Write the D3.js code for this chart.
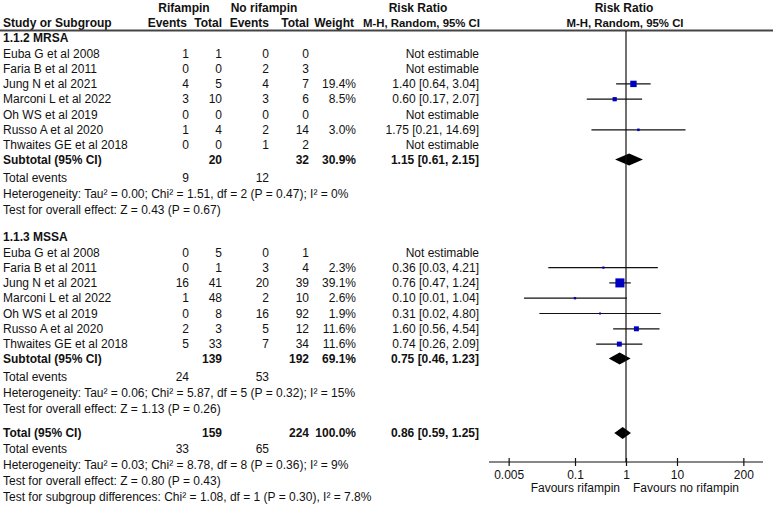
<!DOCTYPE html>
<html><head><meta charset="utf-8">
<script src="https://cdn.jsdelivr.net/npm/d3@7/dist/d3.min.js"></script>
<style>
body{margin:0;background:#fff;}
svg text{font-family:"Liberation Sans",Arial,sans-serif;font-size:12px;fill:#111;}
</style></head><body>
<svg id="c" width="777" height="505"></svg>
<script>
// ---- data ----
const studyNames = ["Euba G et al 2008","Faria B et al 2011","Jung N et al 2021","Marconi L et al 2022","Oh WS et al 2019","Russo A et al 2020","Thwaites GE et al 2018"];
// MRSA subgroup
const mrsaE1 = [1,0,4,3,0,1,0];
const mrsaN1 = [1,0,5,10,0,4,0];
const mrsaE2 = [0,2,4,3,0,2,1];
const mrsaN2 = [0,3,7,6,0,14,2];
const mrsaW  = [null,null,19.4,8.5,null,3.0,null];
const mrsaRR = [null,null,1.40,0.60,null,1.75,null];
const mrsaLo = [null,null,0.64,0.17,null,0.21,null];
const mrsaHi = [null,null,3.04,2.07,null,14.69,null];
const mrsaSub = {n1:20,n2:32,w:30.9,rr:1.15,lo:0.61,hi:2.15,e1:9,e2:12};
const mrsaHet = "Heterogeneity: Tau\u00b2 = 0.00; Chi\u00b2 = 1.51, df = 2 (P = 0.47); I\u00b2 = 0%";
const mrsaZ = "Test for overall effect: Z = 0.43 (P = 0.67)";
// MSSA subgroup
const mssaE1 = [0,0,16,1,0,2,5];
const mssaN1 = [5,1,41,48,8,3,33];
const mssaE2 = [0,3,20,2,16,5,7];
const mssaN2 = [1,4,39,10,92,12,34];
const mssaW  = [null,2.3,39.1,2.6,1.9,11.6,11.6];
const mssaRR = [null,0.36,0.76,0.10,0.31,1.60,0.74];
const mssaLo = [null,0.03,0.47,0.01,0.02,0.56,0.26];
const mssaHi = [null,4.21,1.24,1.04,4.80,4.54,2.09];
const mssaSub = {n1:139,n2:192,w:69.1,rr:0.75,lo:0.46,hi:1.23,e1:24,e2:53};
const mssaHet = "Heterogeneity: Tau\u00b2 = 0.06; Chi\u00b2 = 5.87, df = 5 (P = 0.32); I\u00b2 = 15%";
const mssaZ = "Test for overall effect: Z = 1.13 (P = 0.26)";
// overall
const total = {n1:159,n2:224,w:100.0,rr:0.86,lo:0.59,hi:1.25,e1:33,e2:65};
const totalHet = "Heterogeneity: Tau\u00b2 = 0.03; Chi\u00b2 = 8.78, df = 8 (P = 0.36); I\u00b2 = 9%";
const totalZ = "Test for overall effect: Z = 0.80 (P = 0.43)";
const subgroupTest = "Test for subgroup differences: Chi\u00b2 = 1.08, df = 1 (P = 0.30), I\u00b2 = 7.8%";
const tickVals = [0.005,0.1,1,10,200];
const tickLabels = ["0.005","0.1","1","10","200"];

// ---- layout ----
const svg = d3.select("#c");
const X = {name:3, e1:189, n1:222, e2:269, n2:309, w:356, ci:479};
const x = d3.scaleLog().domain([0.005,200]).range([626-2.30103*51, 626+2.30103*51]);
const f2 = d3.format(".2f"), f1 = d3.format(".1f");
const ciText = (r,l,h)=> r==null ? "Not estimable" : `${f2(r)} [${f2(l)}, ${f2(h)}]`;

function txt(xp,y,s,anchor,bold,size){
  const t = svg.append("text").attr("x",xp).attr("y",y).attr("dy","0.35em")
    .attr("text-anchor",anchor||"start").style("font-weight",bold?"bold":"normal").text(s);
  if(size) t.style("font-size",size+"px");
}
// headers
const hs = 12;
txt(184,8,"Rifampin","middle",true,hs);
txt(264,8,"No rifampin","middle",true,hs);
txt(418,8,"Risk Ratio","middle",true,hs);
txt(624,8,"Risk Ratio","middle",true,hs);
txt(X.name,23,"Study or Subgroup","start",true,hs);
txt(X.e1-2,23,"Events","end",true,hs);
txt(X.n1,23,"Total","end",true,hs);
txt(X.e2,23,"Events","end",true,hs);
txt(X.n2,23,"Total","end",true,hs);
txt(X.w-2,23,"Weight","end",true,hs);
txt(X.ci+1,23,"M-H, Random, 95% CI","end",true,11.4);
txt(625,23,"M-H, Random, 95% CI","middle",true,11.4);
svg.append("line").attr("x1",0).attr("x2",773).attr("y1",30.5).attr("y2",30.5).attr("stroke","#444").attr("stroke-width",2);

const step = 15.3;
function group(title,y0,E1,N1,E2,N2,W,RR,LO,HI,sub,het,z){
  txt(X.name,y0,title,"start",true);
  studyNames.forEach((nm,i)=>{
    const y = y0 + step*(i+1);
    txt(X.name,y,nm);
    txt(X.e1,y,E1[i],"end"); txt(X.n1,y,N1[i],"end");
    txt(X.e2,y,E2[i],"end"); txt(X.n2,y,N2[i],"end");
    if(W[i]!=null) txt(X.w,y,f1(W[i])+"%","end");
    txt(X.ci,y,ciText(RR[i],LO[i],HI[i]),"end");
    if(RR[i]!=null){
      svg.append("line").attr("x1",x(LO[i])).attr("x2",x(HI[i])).attr("y1",y).attr("y2",y).attr("stroke","#111").attr("stroke-width",1.2);
      const s = Math.max(1.8,1.45*Math.sqrt(W[i]));
      svg.append("rect").attr("x",x(RR[i])-s/2).attr("y",y-s/2).attr("width",s).attr("height",s).attr("fill","#0000c0");
    }
  });
  const ys = y0 + step*8 - 1;
  summary("Subtotal (95% CI)",ys,sub);
  txt(X.name,ys+18,"Total events"); txt(X.e1,ys+18,sub.e1,"end"); txt(X.e2,ys+18,sub.e2,"end");
  txt(X.name,ys+34,het);
  txt(X.name,ys+50,z);
}
function summary(label,y,s){
  txt(X.name,y,label,"start",true);
  txt(X.n1,y,s.n1,"end",true); txt(X.n2,y,s.n2,"end",true);
  txt(X.w,y,f1(s.w)+"%","end",true);
  txt(X.ci,y,ciText(s.rr,s.lo,s.hi),"end",true);
  const h=6;
  svg.append("path").attr("d",`M${x(s.lo)},${y}L${x(s.rr)},${y-h}L${x(s.hi)},${y}L${x(s.rr)},${y+h}Z`).attr("fill","#000");
}
group("1.1.2 MRSA",38,mrsaE1,mrsaN1,mrsaE2,mrsaN2,mrsaW,mrsaRR,mrsaLo,mrsaHi,mrsaSub,mrsaHet,mrsaZ);
group("1.1.3 MSSA",237,mssaE1,mssaN1,mssaE2,mssaN2,mssaW,mssaRR,mssaLo,mssaHi,mssaSub,mssaHet,mssaZ);
summary("Total (95% CI)",433,total);
txt(X.name,449,"Total events"); txt(X.e1,449,total.e1,"end"); txt(X.e2,449,total.e2,"end");
txt(X.name,465,totalHet);
txt(X.name,481,totalZ);
txt(X.name,497,subgroupTest);

// vertical line of no effect
svg.append("line").attr("x1",x(1)).attr("x2",x(1)).attr("y1",31).attr("y2",462).attr("stroke","#111").attr("stroke-width",1.2);
// axis
const axisY = 462;
svg.append("line").attr("x1",489).attr("x2",763).attr("y1",axisY).attr("y2",axisY).attr("stroke","#111").attr("stroke-width",1.2);
const ax = svg.append("g").attr("transform",`translate(0,${axisY})`)
  .call(d3.axisBottom(x).tickValues(tickVals).tickFormat((d,i)=>tickLabels[i]).tickSizeInner(4).tickSizeOuter(0).tickPadding(4));
ax.select(".domain").remove();
ax.selectAll(".tick line").attr("y1",-4).attr("y2",4).attr("stroke","#111").attr("stroke-width",1.2);
ax.selectAll(".tick text").style("font-size","12px").style("font-family","Liberation Sans, Arial, sans-serif").attr("fill","#111");
txt(620,488,"Favours rifampin","end");
txt(633,488,"Favours no rifampin","start");
</script></body></html>
